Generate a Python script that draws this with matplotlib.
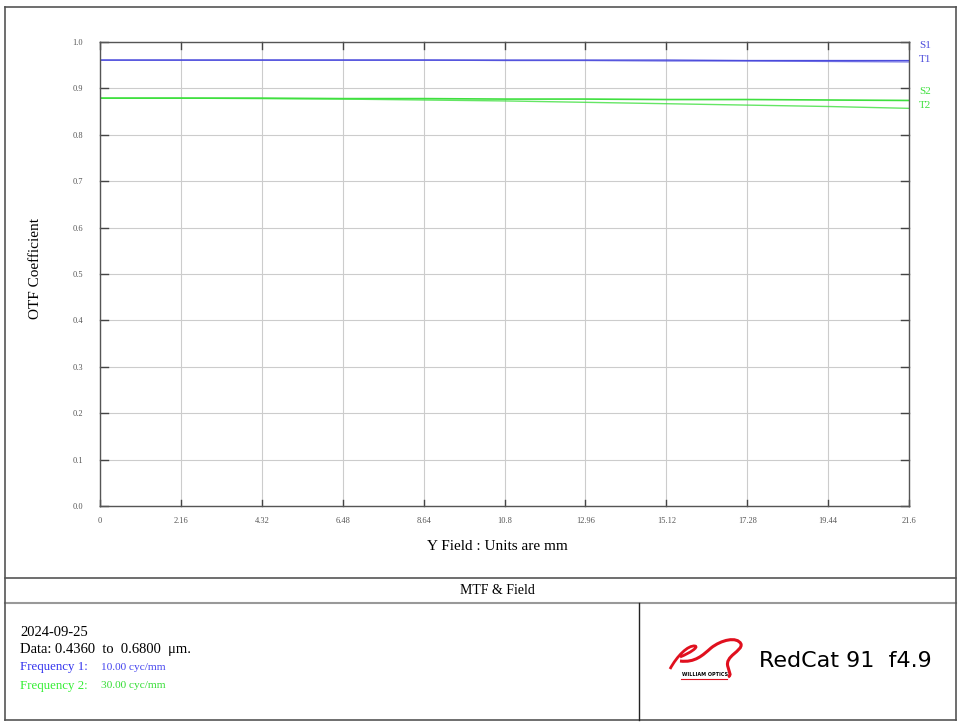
import matplotlib
matplotlib.use("Agg")
import matplotlib.pyplot as plt
from matplotlib.patches import PathPatch
from matplotlib.path import Path
from matplotlib.lines import Line2D

# ---- data ----
field = [0, 2.16, 4.32, 6.48, 8.64, 10.8, 12.96, 15.12, 17.28, 19.44, 21.6]
x_ticklabels = ["0", "2.16", "4.32", "6.48", "8.64", "10.8", "12.96", "15.12", "17.28", "19.44", "21.6"]
y_ticks = [0.0, 0.1, 0.2, 0.3, 0.4, 0.5, 0.6, 0.7, 0.8, 0.9, 1.0]
s1 = [0.961, 0.961, 0.961, 0.961, 0.961, 0.961, 0.961, 0.961, 0.960, 0.960, 0.960]
t1 = [0.961, 0.961, 0.961, 0.961, 0.961, 0.960, 0.960, 0.959, 0.959, 0.958, 0.957]
s2 = [0.879, 0.879, 0.879, 0.878, 0.878, 0.877, 0.877, 0.876, 0.876, 0.875, 0.874]
t2 = [0.879, 0.879, 0.878, 0.877, 0.875, 0.873, 0.870, 0.867, 0.864, 0.861, 0.857]
series_labels = ["S1", "T1", "S2", "T2"]

W, H = 963, 727
fig = plt.figure(figsize=(W / 100, H / 100), dpi=100)
SERIF = ["Liberation Serif", "DejaVu Serif"]

def fx(px):
    return px / W

def fy(py):
    return 1 - py / H

BLUE = "#4b4bdc"
GREEN = "#3fe03f"

ax = fig.add_axes([fx(100), fy(506), fx(909) - fx(100), fy(42) - fy(506)])
ax.set_xlim(0, 21.6)
ax.set_ylim(0, 1.0)
ax.plot(field, s1, color=BLUE, lw=1.0)
ax.plot(field, t1, color=BLUE, lw=0.9, alpha=0.75)
ax.plot(field, s2, color=GREEN, lw=1.2)
ax.plot(field, t2, color=GREEN, lw=1.0, alpha=0.8)

ax.set_xticks(field)
ax.set_xticklabels(x_ticklabels, family=SERIF, fontsize=6, color="#555555")
ax.set_yticks(y_ticks)
ax.set_yticklabels([f"{v:.1f}" for v in y_ticks], family=SERIF, fontsize=6, color="#555555")
ax.grid(True, color="#cccccc", lw=0.8)
ax.tick_params(axis="both", which="both", direction="in", length=0)
ax.tick_params(axis="x", pad=8)
ax.tick_params(axis="y", pad=12)
for sp in ax.spines.values():
    sp.set_color("#555555")
    sp.set_linewidth(1.0)

# inward tick marks on left, top, right, bottom
for v in y_ticks:
    ax.plot([0, 0.22], [v, v], color="#444444", lw=1.0, clip_on=False)
    ax.plot([21.6 - 0.22, 21.6], [v, v], color="#444444", lw=1.0, clip_on=False)
for v in field:
    ax.plot([v, v], [1.0, 0.985], color="#444444", lw=1.0, clip_on=False)
    ax.plot([v, v], [0.0, 0.012], color="#444444", lw=1.0, clip_on=False)

fig.text(fx(497), fy(546), "Y Field : Units are mm", family=SERIF, fontsize=11,
         ha="center", va="center")
fig.text(fx(35), fy(268), "OTF Coefficient", family=SERIF, fontsize=11,
         ha="center", va="center", rotation=90)

# series labels at the right end
label_y_px = [45, 59, 91, 106]
label_cols = [BLUE, BLUE, GREEN, GREEN]
for lab, py, c in zip(series_labels, label_y_px, label_cols):
    fig.text(fx(919), fy(py), lab, family=SERIF, fontsize=8, color=c, va="center", ha="left")

# ---- frames ----
def hline(y, x0=5, x1=956, c="#555555", lw=1.2):
    fig.add_artist(Line2D([fx(x0), fx(x1)], [fy(y), fy(y)], color=c, lw=lw))

def vline(x, y0, y1, c="#555555", lw=1.2):
    fig.add_artist(Line2D([fx(x), fx(x)], [fy(y0), fy(y1)], color=c, lw=lw))

hline(7)
hline(720)
hline(578)
hline(603, c="#999999", lw=1.5)
vline(5, 7, 720)
vline(956, 7, 720)
vline(639, 603, 720, c="#222222", lw=1.0)

fig.text(fx(497), fy(590), "MTF & Field", family=SERIF, fontsize=10, ha="center", va="center")

fig.text(fx(20), fy(632), "2024-09-25", family=SERIF, fontsize=10.5, va="center")
fig.text(fx(20), fy(649), "Data: 0.4360  to  0.6800  \u03bcm.", family=SERIF, fontsize=10.5, va="center")
fig.text(fx(20), fy(667), "Frequency 1:", family=SERIF, fontsize=9.3, va="center", color="#3333ee")
fig.text(fx(101), fy(667), "10.00 cyc/mm", family=SERIF, fontsize=8.2, va="center", color="#4444ee")
fig.text(fx(20), fy(686), "Frequency 2:", family=SERIF, fontsize=9.3, va="center", color="#33ee33")
fig.text(fx(101), fy(686), "30.00 cyc/mm", family=SERIF, fontsize=8.2, va="center", color="#33dd33")

# ---- logo (approximate swoosh) ----
def P(x, y):
    return (fx(x), fy(y))

RED = "#e0101e"
C = Path.CURVE4
neck = [P(670, 669), P(677, 656), P(688, 645), P(695, 646),
        P(699, 647), P(690, 653), P(680, 657)]
fig.add_artist(PathPatch(Path(neck, [Path.MOVETO, C, C, C, C, C, C]),
                         transform=fig.transFigure, fill=False, edgecolor=RED, lw=2.0))
body = [P(680, 661), P(695, 663), P(703, 655), P(711, 648),
        P(721, 640), P(737, 636), P(741, 644),
        P(743, 651), P(724, 656), P(728, 667),
        P(729, 672), P(732, 675), P(728, 677)]
fig.add_artist(PathPatch(Path(body, [Path.MOVETO] + [C] * 12),
                         transform=fig.transFigure, fill=False, edgecolor=RED, lw=2.2))
fig.add_artist(Line2D([fx(681), fx(727)], [fy(678.5), fy(678.5)], color=RED, lw=0.8))
fig.text(fx(682), fy(675), "WILLIAM OPTICS", family=["DejaVu Sans"], fontsize=3.5,
         weight="bold", va="center")

fig.text(fx(759), fy(661), "RedCat 91  f4.9", family=["DejaVu Sans"], fontsize=16,
         va="center", ha="left")

fig.savefig("out.png", dpi=100)
